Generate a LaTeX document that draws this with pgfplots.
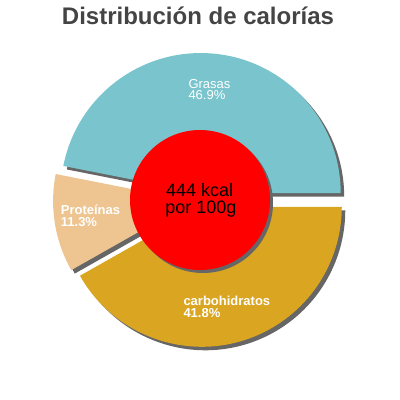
\documentclass[border=0pt]{standalone}
\usepackage{pgfplots}
\pgfplotsset{compat=1.18}
\usepackage{pgfplotstable}
\usetikzlibrary{calc}
\usepackage{fontspec}
\setmainfont{Liberation Sans}
\definecolor{grasas}{HTML}{7AC5CD}
\definecolor{prot}{HTML}{EEC591}
\definecolor{carbo}{HTML}{DAA520}
\definecolor{shadowc}{HTML}{666666}
\definecolor{titlegray}{HTML}{444444}

\pgfplotstableread{
label value
Grasas 46.9
Proteinas 11.3
Carbohidratos 41.8
}\pietable

\newcommand\pieslice[3]{%
  \fill[shadowc] ($(axis cs:200,200)+({(#1+#2)/2}:7pt)+(3.5pt,-3.5pt)$) -- ++(#1:140pt)
     arc[start angle=#1, end angle=#2, radius=140pt] -- cycle;
  \fill[#3] ($(axis cs:200,200)+({(#1+#2)/2}:7pt)$) -- ++(#1:140pt)
     arc[start angle=#1, end angle=#2, radius=140pt] -- cycle;
}

\begin{document}%
\begin{tikzpicture}
\pgfplotstablegetelem{0}{value}\of\pietable \let\vA\pgfplotsretval
\pgfplotstablegetelem{1}{value}\of\pietable \let\vB\pgfplotsretval
\pgfplotstablegetelem{2}{value}\of\pietable \let\vC\pgfplotsretval
\pgfmathsetmacro\aA{0}
\pgfmathsetmacro\bA{\vA*3.6}
\pgfmathsetmacro\bB{\bA+\vB*3.6}
\pgfmathsetmacro\bC{\bB+\vC*3.6}
\begin{axis}[
  scale only axis, width=400pt, height=400pt,
  xmin=0, xmax=400, ymin=0, ymax=400,
  hide axis, clip=false, xtick=\empty, ytick=\empty,
]
\coordinate (BL) at (rel axis cs:0,0);
\coordinate (TR) at (rel axis cs:1,1);
\pieslice{\aA}{\bA}{grasas}
\pieslice{\bA}{\bB}{prot}
\pieslice{\bB}{\bC}{carbo}
\fill[shadowc] (axis cs:203,197) circle[radius=70pt];
\fill[red] (axis cs:200,200) circle[radius=70pt];

\node[anchor=base, inner sep=0pt, text=titlegray, font=\fontsize{24}{28}\selectfont\bfseries] at (axis cs:198,375) {Distribución de calorías};

\node[anchor=base west, inner sep=0pt, text=white, font=\fontsize{13}{15}\selectfont] at (axis cs:188.3,311.7) {Grasas};
\node[anchor=base west, inner sep=0pt, text=white, font=\fontsize{13}{15}\selectfont] at (axis cs:188.3,300) {46.9\%};

\node[anchor=base west, inner sep=0pt, text=white, font=\fontsize{13}{15}\selectfont\bfseries] at (axis cs:60.7,185) {Proteínas};
\node[anchor=base west, inner sep=0pt, text=white, font=\fontsize{13}{15}\selectfont\bfseries] at (axis cs:60.7,173) {11.3\%};

\node[anchor=base west, inner sep=0pt, text=white, font=\fontsize{13}{15}\selectfont\bfseries] at (axis cs:183.3,94.5) {carbohidratos};
\node[anchor=base west, inner sep=0pt, text=white, font=\fontsize{13}{15}\selectfont\bfseries] at (axis cs:183.3,82.5) {41.8\%};

\node[anchor=base, inner sep=0pt, text=black, font=\fontsize{18}{21}\selectfont] at (axis cs:199.7,204) {444 kcal};
\node[anchor=base, inner sep=0pt, text=black, font=\fontsize{18}{21}\selectfont] at (axis cs:200.8,186.7) {por 100g};
\end{axis}
\pgfresetboundingbox
\path (BL) rectangle (TR);
\end{tikzpicture}%
\end{document}
